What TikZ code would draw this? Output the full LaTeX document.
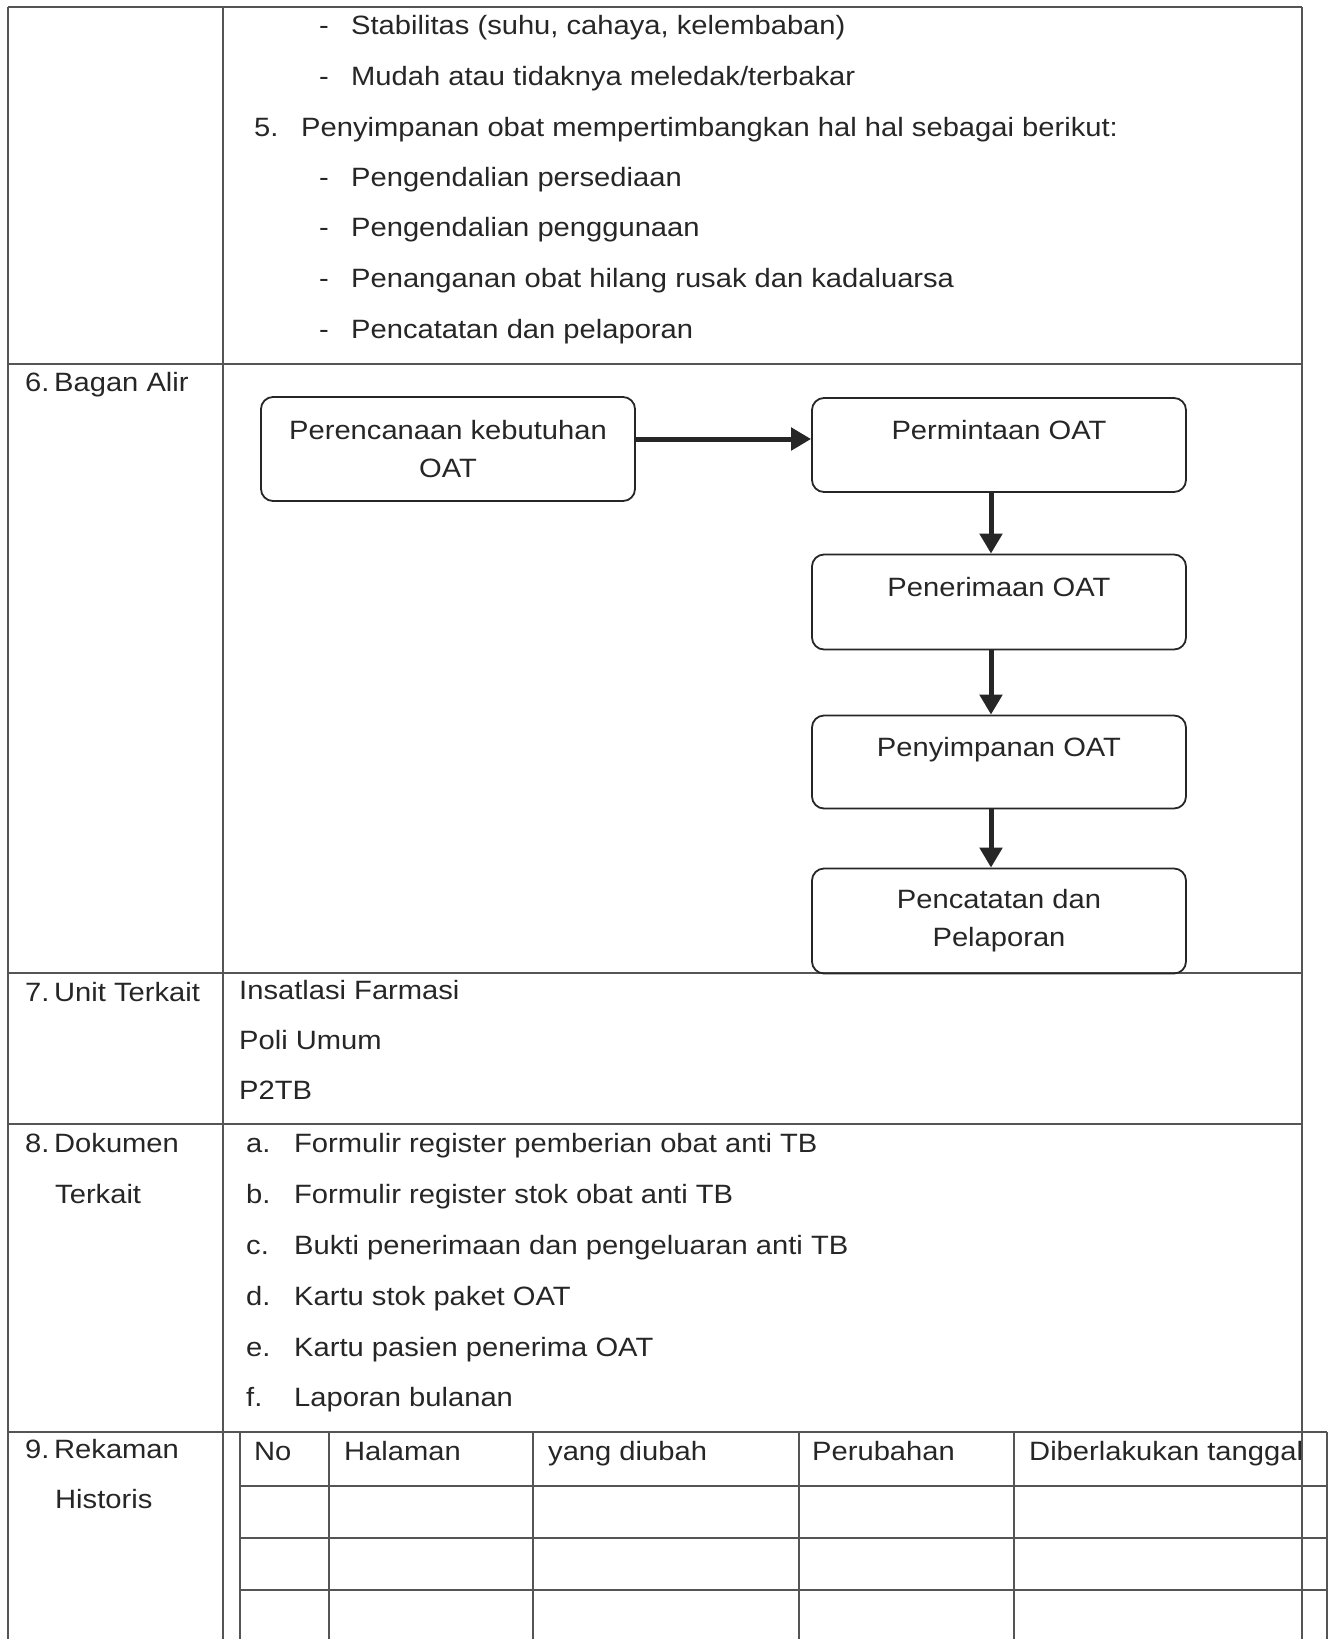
\documentclass[tikz,border=0pt]{standalone}
\usepackage{fontspec}
\setmainfont[FakeStretch=1.1]{Liberation Sans}
\usetikzlibrary{positioning}
\usetikzlibrary{arrows.meta}
\definecolor{inkgray}{HTML}{262626}
\definecolor{rulegray}{HTML}{555555}

\begin{document}
\begin{tikzpicture}[
    x=1pt, y=-1pt,
    every node/.style={font=\fontsize{26.5}{38}\selectfont, text=inkgray},
    txt/.style={anchor=base west, inner sep=0pt},
    rule/.style={draw=rulegray, line width=1.6pt},
    thinrule/.style={draw=rulegray, line width=1.3pt},
    stepbox/.style={draw=inkgray, line width=1.8pt, rounded corners=12pt, minimum width=374pt, align=center, inner sep=0pt},
    onetext/.style={text height=19pt, text depth=30pt},
    flow/.style={draw=inkgray, line width=5pt, -{Triangle[length=20pt, width=22pt]}}
]
\useasboundingbox (0,0) rectangle (1332,1639);

% Table frame
\draw[rule] (8,7) -- (1302,7);
\draw[rule] (8,7) -- (8,1639);
\draw[rule] (223,7) -- (223,1639);
\draw[rule] (1302,7) -- (1302,1639);
\draw[rule] (8,364) -- (1302,364);
\draw[rule] (8,973) -- (1302,973);
\draw[rule] (8,1124) -- (1302,1124);
\draw[rule] (8,1432) -- (1327,1432);

% History table
\draw[thinrule] (240,1432) -- (240,1639);
\draw[thinrule] (329,1432) -- (329,1639);
\draw[thinrule] (533,1432) -- (533,1639);
\draw[thinrule] (799,1432) -- (799,1639);
\draw[thinrule] (1014,1432) -- (1014,1639);
\draw[thinrule] (1327,1432) -- (1327,1639);
\draw[thinrule] (240,1486) -- (1327,1486);
\draw[thinrule] (240,1538) -- (1327,1538);
\draw[thinrule] (240,1590) -- (1327,1590);

% Continued list
\node[txt] (s1) at (319,34.5) {\makebox[32pt][l]{-}Stabilitas (suhu, cahaya, kelembaban)};
\node[txt] (s2) at (319,85.5) {\makebox[32pt][l]{-}Mudah atau tidaknya meledak/terbakar};
\node[txt] (s3) at (254,136) {\makebox[47pt][l]{5.}Penyimpanan obat mempertimbangkan hal hal sebagai berikut:};
\node[txt] (s4) at (319,186.5) {\makebox[32pt][l]{-}Pengendalian persediaan};
\node[txt] (s5) at (319,236.5) {\makebox[32pt][l]{-}Pengendalian penggunaan};
\node[txt] (s6) at (319,287.5) {\makebox[32pt][l]{-}Penanganan obat hilang rusak dan kadaluarsa};
\node[txt] (s7) at (319,338.5) {\makebox[32pt][l]{-}Pencatatan dan pelaporan};

% Row labels
\node[txt] (l6) at (25,391.5) {\makebox[29pt][l]{6.}Bagan Alir};
\node[txt] (l7) at (25,1001.5) {\makebox[29pt][l]{7.}Unit Terkait};
\node[txt] (l8) at (25,1152.5) {\makebox[29pt][l]{8.}Dokumen};
\node[txt] (l8b) at (55,1203.5) {Terkait};
\node[txt] (l9) at (25,1458.5) {\makebox[29pt][l]{9.}Rekaman};
\node[txt] (l9b) at (55,1508.5) {Historis};

% Flow chart
\node[stepbox, minimum height=104pt] (plan) at (448,449) {Perencanaan kebutuhan\\OAT};
\node[stepbox, minimum height=94pt, onetext] (minta) at (999,445) {Permintaan OAT};
\node[stepbox, minimum height=95pt, onetext] (terima) at (999,602) {Penerimaan OAT};
\node[stepbox, minimum height=93pt, onetext] (simpan) at (999,762) {Penyimpanan OAT};
\node[stepbox, minimum height=105pt] (catat) at (999,921) {Pencatatan dan\\Pelaporan};

\draw[flow] ([yshift=10pt]plan.east) -- ([yshift=10pt]plan.east -| minta.west);
\draw[flow] ([xshift=-8pt]minta.south) -- ([xshift=-8pt]terima.north);
\draw[flow] ([xshift=-8pt]terima.south) -- ([xshift=-8pt]simpan.north);
\draw[flow] ([xshift=-8pt]simpan.south) -- ([xshift=-8pt]catat.north);

% Units
\node[txt] (u1) at (239,999.5) {Insatlasi Farmasi};
\node[txt] (u2) at (239,1049.5) {Poli Umum};
\node[txt] (u3) at (239,1099.5) {P2TB};

% Documents
\node[txt] (d1) at (246,1152.5) {\makebox[48pt][l]{a.}Formulir register pemberian obat anti TB};
\node[txt] (d2) at (246,1203.5) {\makebox[48pt][l]{b.}Formulir register stok obat anti TB};
\node[txt] (d3) at (246,1254.5) {\makebox[48pt][l]{c.}Bukti penerimaan dan pengeluaran anti TB};
\node[txt] (d4) at (246,1305.5) {\makebox[48pt][l]{d.}Kartu stok paket OAT};
\node[txt] (d5) at (246,1356.5) {\makebox[48pt][l]{e.}Kartu pasien penerima OAT};
\node[txt] (d6) at (246,1406.5) {\makebox[48pt][l]{f.}Laporan bulanan};

% History header
\node[txt] (h1) at (254,1460.5) {No};
\node[txt] (h2) at (344,1460.5) {Halaman};
\node[txt] (h3) at (548,1460.5) {yang diubah};
\node[txt] (h4) at (812,1460.5) {Perubahan};
\node[txt] (h5) at (1029,1460.5) {Diberlakukan tanggal};

\end{tikzpicture}
\end{document}
